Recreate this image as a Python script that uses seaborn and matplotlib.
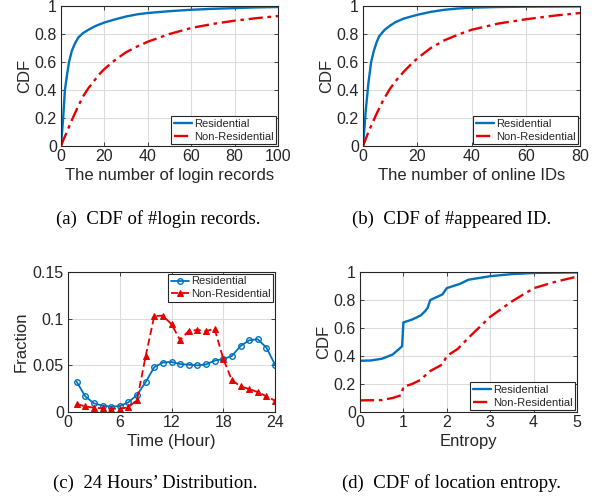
import numpy as np
import pandas as pd
import matplotlib
matplotlib.use("Agg")
import matplotlib.pyplot as plt
import seaborn as sns

# ---------------- data ----------------
# (a) CDF of #login records
a_res_x = [0, 0.5, 1, 1.8, 2.7, 3.7, 5, 6.5, 8, 10, 12.6, 16, 20, 25, 30, 35, 40, 50, 60, 70, 80, 90, 100]
a_res_y = [0, 0.10, 0.20, 0.40, 0.50, 0.60, 0.68, 0.735, 0.775, 0.805, 0.83, 0.858, 0.882, 0.905, 0.925, 0.94, 0.95, 0.963, 0.973, 0.980, 0.985, 0.99, 0.993]
a_non_x = [0, 1, 2, 3.5, 5, 7.5, 10, 12.5, 15, 17.5, 20, 25, 30, 35, 40, 50, 60, 70, 80, 90, 100]
a_non_y = [0, 0.04, 0.075, 0.13, 0.185, 0.27, 0.35, 0.41, 0.46, 0.51, 0.55, 0.615, 0.67, 0.71, 0.745, 0.80, 0.843, 0.872, 0.895, 0.913, 0.928]

# (b) CDF of #appeared ID
b_res_x = [0, 0.5, 1, 2, 3, 4, 5, 6, 8, 10, 12, 15, 20, 25, 30, 35, 40, 50, 60, 80]
b_res_y = [0, 0.12, 0.25, 0.45, 0.60, 0.68, 0.74, 0.785, 0.83, 0.86, 0.885, 0.91, 0.937, 0.958, 0.973, 0.982, 0.988, 0.993, 0.995, 0.997]
b_non_x = [0, 1, 2, 3.5, 5, 7.5, 10, 12.5, 15, 17.5, 20, 25, 30, 35, 40, 50, 60, 70, 80]
b_non_y = [0, 0.05, 0.10, 0.165, 0.23, 0.33, 0.41, 0.475, 0.53, 0.58, 0.625, 0.70, 0.755, 0.795, 0.83, 0.875, 0.905, 0.93, 0.95]

# (c) 24 hours' distribution
hours = list(range(1, 25))
c_res = [0.0325, 0.0168, 0.0093, 0.0068, 0.0057, 0.0064, 0.0104, 0.0182, 0.032, 0.048, 0.053, 0.0536,
         0.0514, 0.0507, 0.050, 0.051, 0.055, 0.0568, 0.060, 0.0707, 0.0768, 0.078, 0.069, 0.0507]
c_non = [0.0086, 0.006, 0.0046, 0.004, 0.0036, 0.0036, 0.005, 0.0129, 0.0596, 0.1029, 0.1032, 0.094,
         0.077, 0.087, 0.0879, 0.0868, 0.089, 0.057, 0.034, 0.0275, 0.0246, 0.0214, 0.0168, 0.0121]

# (d) CDF of location entropy
d_res_x = [0, 0.25, 0.5, 0.75, 0.9, 0.97, 1.0, 1.2, 1.4, 1.5, 1.56, 1.62, 1.9, 2.0, 2.3, 2.5, 3.0, 3.5, 4.0, 5.0]
d_res_y = [0.366, 0.368, 0.38, 0.41, 0.45, 0.47, 0.64, 0.66, 0.69, 0.72, 0.745, 0.80, 0.84, 0.885, 0.915, 0.945, 0.97, 0.985, 0.993, 0.997]
d_non_x = [0, 0.5, 0.75, 0.95, 1.0, 1.2, 1.4, 1.6, 1.9, 2.0, 2.25, 2.5, 3.0, 3.5, 4.0, 4.5, 5.0]
d_non_y = [0.083, 0.085, 0.10, 0.12, 0.18, 0.20, 0.23, 0.29, 0.34, 0.40, 0.45, 0.53, 0.68, 0.79, 0.884, 0.93, 0.967]

labels = ["Residential", "Non-Residential"]
captions = ["(a)  CDF of #login records.", "(b)  CDF of #appeared ID.",
            "(c)  24 Hours\u2019 Distribution.", "(d)  CDF of location entropy."]

# ---------------- style ----------------
sns.set_style("ticks")
plt.rcParams['font.family'] = ['Liberation Sans', 'DejaVu Sans']
BLUE = "#0072BD"
RED = "#e60000"
AX = "#262626"
GRID = "#dcdcdc"

W, H = 604, 498
fig = plt.figure(figsize=(W / 100, H / 100), dpi=100)


def add_ax(l, t, r, b):
    return fig.add_axes([l / W, 1 - b / H, (r - l) / W, (b - t) / H])


def style(ax):
    ax.grid(True, color=GRID, lw=0.8)
    ax.set_axisbelow(True)
    for s in ax.spines.values():
        s.set_color(AX)
        s.set_linewidth(0.8)
        s.set_visible(True)
    ax.tick_params(direction="in", length=3, width=0.6, colors=AX, labelsize=11.5, pad=2,
                   top=True, right=True)
    ax.tick_params(axis="y", pad=3)


def legend(ax, loc):
    leg = ax.legend(loc=loc, fontsize=8, frameon=True, fancybox=False, borderaxespad=0.15,
                    handlelength=1.6, handletextpad=0.2, borderpad=0.25, labelspacing=0.25)
    leg.get_frame().set_edgecolor(AX)
    leg.get_frame().set_linewidth(0.8)
    leg.get_frame().set_alpha(1)


# (a)
ax = add_ax(61, 6, 278, 146)
sns.lineplot(x=a_res_x, y=a_res_y, ax=ax, color=BLUE, lw=1.7, label=labels[0])
sns.lineplot(x=a_non_x, y=a_non_y, ax=ax, color=RED, lw=1.7, label=labels[1])
ax.lines[1].set_dashes([6, 2, 1.5, 2])
ax.set_xlim(0, 100); ax.set_ylim(0, 1)
ax.set_xticks([0, 20, 40, 60, 80, 100]); ax.set_yticks([0, 0.2, 0.4, 0.6, 0.8, 1])
ax.set_yticklabels(["0", "0.2", "0.4", "0.6", "0.8", "1"])
ax.set_xlabel("The number of login records", fontsize=12, color=AX, labelpad=3)
ax.set_ylabel("CDF", fontsize=12, color=AX, labelpad=2)
style(ax); legend(ax, "lower right")

# (b)
ax = add_ax(363, 6, 580, 146)
sns.lineplot(x=b_res_x, y=b_res_y, ax=ax, color=BLUE, lw=1.7, label=labels[0])
sns.lineplot(x=b_non_x, y=b_non_y, ax=ax, color=RED, lw=1.7, label=labels[1])
ax.lines[1].set_dashes([6, 2, 1.5, 2])
ax.set_xlim(0, 80); ax.set_ylim(0, 1)
ax.set_xticks([0, 20, 40, 60, 80]); ax.set_yticks([0, 0.2, 0.4, 0.6, 0.8, 1])
ax.set_yticklabels(["0", "0.2", "0.4", "0.6", "0.8", "1"])
ax.set_xlabel("The number of online IDs", fontsize=12, color=AX, labelpad=3)
ax.set_ylabel("CDF", fontsize=12, color=AX, labelpad=2)
style(ax); legend(ax, "lower right")

# (c)
ax = add_ax(68, 272, 275, 412)
sns.lineplot(x=hours, y=c_res, ax=ax, color=BLUE, lw=1.3, marker="o", markersize=4,
             markerfacecolor="none", markeredgecolor=BLUE, markeredgewidth=1.0, label=labels[0])
sns.lineplot(x=hours, y=c_non, ax=ax, color=RED, lw=1.3, marker="^", markersize=4.5,
             markerfacecolor=RED, markeredgecolor=RED, label=labels[1])
ax.lines[1].set_dashes([4, 2])
ax.set_xlim(0, 24); ax.set_ylim(0, 0.15)
ax.set_xticks([0, 6, 12, 18, 24]); ax.set_yticks([0, 0.05, 0.1, 0.15])
ax.set_yticklabels(["0", "0.05", "0.1", "0.15"])
ax.set_xlabel("Time (Hour)", fontsize=12, color=AX, labelpad=3)
ax.set_ylabel("Fraction", fontsize=12, color=AX, labelpad=3)
style(ax); legend(ax, "upper right")

# (d)
ax = add_ax(360, 272, 577, 412)
sns.lineplot(x=d_res_x, y=d_res_y, ax=ax, color=BLUE, lw=1.7, label=labels[0])
sns.lineplot(x=d_non_x, y=d_non_y, ax=ax, color=RED, lw=1.7, label=labels[1])
ax.lines[1].set_dashes([6, 2, 1.5, 2])
ax.set_xlim(0, 5); ax.set_ylim(0, 1)
ax.set_xticks([0, 1, 2, 3, 4, 5]); ax.set_yticks([0, 0.2, 0.4, 0.6, 0.8, 1])
ax.set_yticklabels(["0", "0.2", "0.4", "0.6", "0.8", "1"])
ax.set_xlabel("Entropy", fontsize=12, color=AX, labelpad=3)
ax.set_ylabel("CDF", fontsize=12, color=AX, labelpad=2)
style(ax); legend(ax, "lower right")

# captions
cap_pos = [(158, 224), (452, 224), (155, 488), (452, 488)]
for (cx, cy), txt in zip(cap_pos, captions):
    fig.text(cx / W, 1 - cy / H, txt, ha="center", va="baseline", fontsize=13.5,
             family=["Liberation Serif", "DejaVu Serif"], color="black")

fig.savefig("out.png", dpi=100)
